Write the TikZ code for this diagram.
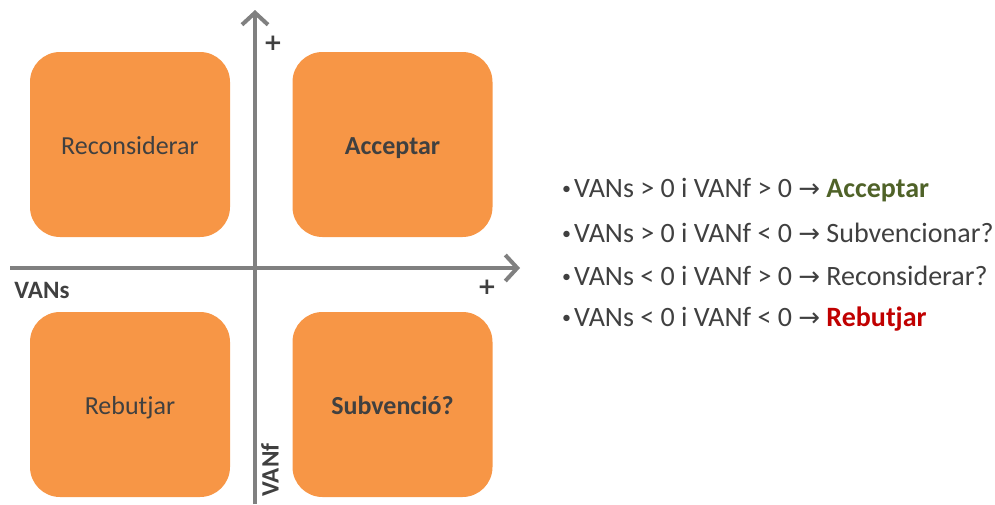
\documentclass[tikz,border=0pt]{standalone}
\usepackage{fontspec}
\setmainfont{Carlito}
\newfontfamily\symfont{DejaVu Sans}
\usetikzlibrary{arrows.meta}
\definecolor{boxorange}{HTML}{F79646}
\definecolor{axisgray}{HTML}{808080}
\definecolor{txtgray}{HTML}{404040}
\definecolor{okgreen}{HTML}{4F6228}
\definecolor{nored}{HTML}{C00000}
\tikzset{
  quad/.style={fill=boxorange, draw=none, rounded corners=30pt, minimum width=200pt, minimum height=185pt, inner sep=0pt, text=txtgray, text height=20pt, text depth=0pt, font=\fontsize{26}{28}\selectfont},
  axis/.style={draw=axisgray, line width=4pt, -{Straight Barb[length=12pt,width=26pt,line width=4pt]}},
  axlabel/.style={text=txtgray, font=\bfseries\fontsize{25}{28}\selectfont, inner sep=0pt},
  plus/.style={text=txtgray, font=\symfont\bfseries\fontsize{23}{26}\selectfont, inner sep=0pt},
  listitem/.style={anchor=west, text=txtgray, font=\fontsize{28}{30}\selectfont, inner sep=0pt}
}
\newcommand{\arr}{{\symfont\fontsize{26}{28}\selectfont →}}
\newcommand{\bul}{{\fontsize{18}{20}\selectfont\raisebox{3pt}{•}}\hspace{3pt}}
\begin{document}
\begin{tikzpicture}[x=1pt,y=-1pt]
\useasboundingbox (0,0) rectangle (995,504);
% boxes
\node[quad] (recon) at (130,144.5) {Reconsiderar};
\node[quad, font=\bfseries\fontsize{26}{28}\selectfont] (accep) at (392.5,144.5) {Acceptar};
\node[quad] (rebut) at (130,404.5) {Rebutjar};
\node[quad, font=\bfseries\fontsize{26}{28}\selectfont] (subv) at (392.5,404.5) {Subvenció?};
% axes
\coordinate (xs) at (10,268);
\coordinate (xe) at (520,268);
\coordinate (ys) at (255,504);
\coordinate (ye) at (255,10);
\draw[axis] (xs) -- (xe);
\draw[axis] (ys) -- (ye);
\node[axlabel] (vans) at (42,290) {VANs};
\node[axlabel, rotate=90] (vanf) at (270,470) {VANf};
\node[plus] (px) at (487,287) {+};
\node[plus] (py) at (273,43) {+};
% list
\node[listitem] (l1) at (562,190) {\bul VANs > 0 i VANf > 0 \arr\ \textcolor{okgreen}{\bfseries Acceptar}};
\node[listitem] (l2) at (562,233) {\bul VANs > 0 i VANf < 0 \arr\ Subvencionar?};
\node[listitem] (l3) at (562,276) {\bul VANs < 0 i VANf > 0 \arr\ Reconsiderar?};
\node[listitem] (l4) at (562,319) {\bul VANs < 0 i VANf < 0 \arr\ \textcolor{nored}{\bfseries Rebutjar}};
\end{tikzpicture}
\end{document}
